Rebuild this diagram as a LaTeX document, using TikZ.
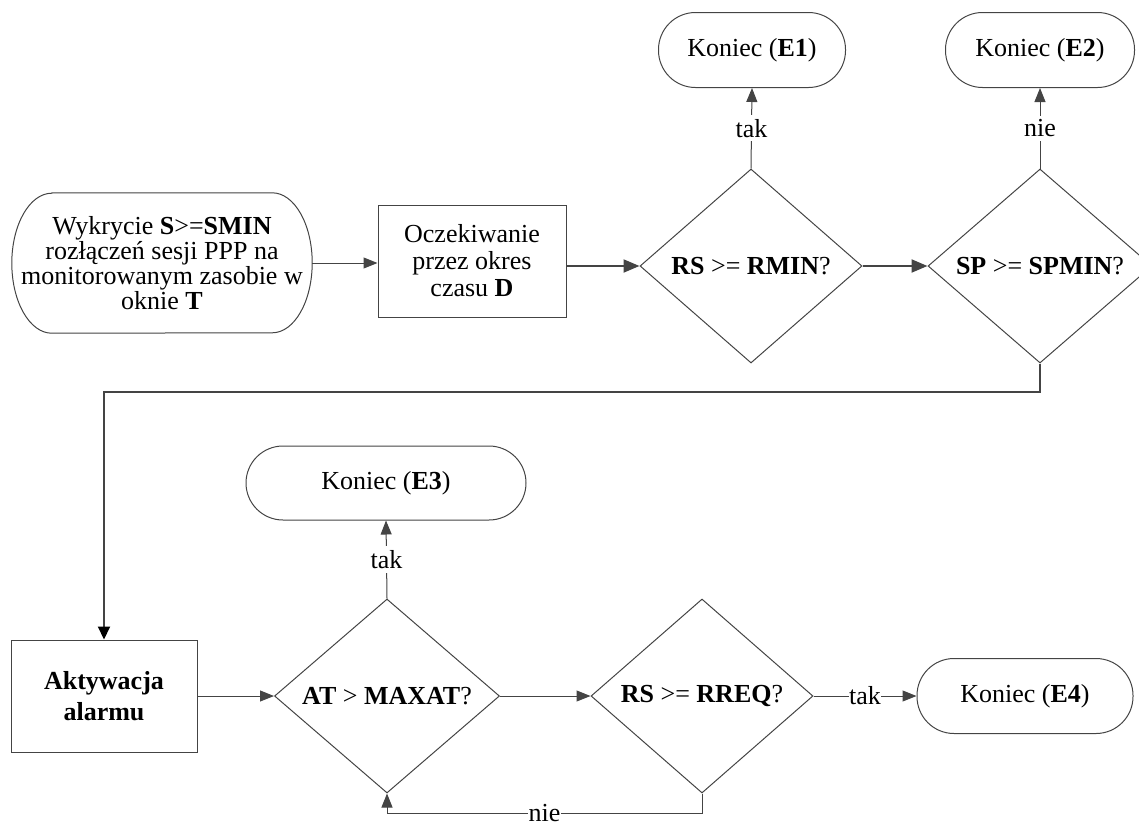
\documentclass[tikz,border=0pt]{standalone}
\usepackage{fontspec}
\setmainfont{Liberation Serif}
\usetikzlibrary{shapes.geometric,arrows.meta}
\definecolor{ln}{RGB}{68,68,68}
\tikzset{
  txt/.style={font=\fontsize{26}{26}\selectfont, align=center, text=black},
  base/.style={txt, draw=ln, line width=1pt, inner sep=0pt},
  procbox/.style={base, rectangle},
  term/.style={base, rectangle, rounded corners=37pt, minimum height=75pt},
  decision/.style={base, diamond, aspect=1.15, minimum width=222pt, minimum height=194pt},
  flow/.style={draw=ln, line width=1pt, -{Triangle[length=14pt,width=11pt]}},
  flowthick/.style={draw=ln, line width=2pt, -{Triangle[length=16pt,width=13pt]}},
  lbl/.style={txt, fill=white, inner xsep=1pt, inner ysep=4pt}
}
\begin{document}
\begin{tikzpicture}[x=1pt, y=-1pt]
\useasboundingbox (0,0) rectangle (1139,827);
\clip (0,0) rectangle (1139,827);

% start node: rounded outline with elliptical ends
\node[txt, inner sep=0pt, minimum width=300pt, minimum height=140pt,
      font=\fontsize{26}{25}\selectfont] (start) at (162,263)
  {Wykrycie \textbf{S}>=\textbf{SMIN}\\rozłączeń sesji PPP na\\monitorowanym zasobie w\\oknie \textbf{T}};
\draw[ln, line width=1pt]
  ([xshift=40pt]start.north west) -- ([xshift=-40pt]start.north east)
  arc[start angle=90, end angle=-90, x radius=40pt, y radius=70pt]
  -- ([xshift=40pt]start.south west)
  arc[start angle=270, end angle=90, x radius=40pt, y radius=70pt] -- cycle;

% first row
\node[procbox, minimum width=188pt, minimum height=112pt,
      font=\fontsize{26}{27}\selectfont] (wait) at (472,261)
  {Oczekiwanie\\przez okres\\czasu \textbf{D}};
\node[decision] (d1) at (751,266) {\textbf{RS} >= \textbf{RMIN}?};
\node[decision, minimum width=224pt] (d2) at (1040,266) {\textbf{SP} >= \textbf{SPMIN}?};
\node[term, minimum width=187pt] (e1) at (752,50) {Koniec (\textbf{E1})};
\node[term, minimum width=189pt] (e2) at (1040,50) {Koniec (\textbf{E2})};

% second row
\node[procbox, minimum width=186pt, minimum height=112pt,
      font=\fontsize{26}{31}\selectfont\bfseries] (akt) at (104,696)
  {Aktywacja\\alarmu};
\node[decision, minimum width=225pt] (d3) at (387,696) {\textbf{AT} > \textbf{MAXAT}?};
\node[decision] (d4) at (702,696) {\textbf{RS} >= \textbf{RREQ}?};
\node[term, minimum width=280pt, minimum height=74pt] (e3) at (386,483) {Koniec (\textbf{E3})};
\node[term, minimum width=216pt] (e4) at (1025,696) {Koniec (\textbf{E4})};

\coordinate (turn) at (104,392);
\coordinate (back) at (387,813);

% connectors
\draw[flow] (start.east) -- (start.east -| wait.west);
\draw[flowthick] (d1.west -| wait.east) -- (d1.west);
\draw[flowthick] (d1.east) -- (d2.west);
\draw[flow] (d1.north) -- node[lbl]{tak} (e1.south);
\draw[flow] (d2.north) -- node[lbl]{nie} (e2.south);
\draw[draw=ln, line width=2pt, -{Triangle[length=13pt,width=12pt,color=black]}]
  (d2.south) |- (turn) -- (akt.north);
\draw[flow] (akt.east) -- (d3.west);
\draw[flow] (d3.north) -- node[lbl]{tak} (e3.south);
\draw[flow] (d3.east) -- (d4.west);
\draw[flow] (d4.east) -- node[lbl, inner ysep=2pt, inner xsep=0pt]{tak} (e4.west);
\draw[flow] (d4.south) |- node[lbl, pos=0.75, inner ysep=1pt]{nie} (back) -- (d3.south);
\end{tikzpicture}
\end{document}
